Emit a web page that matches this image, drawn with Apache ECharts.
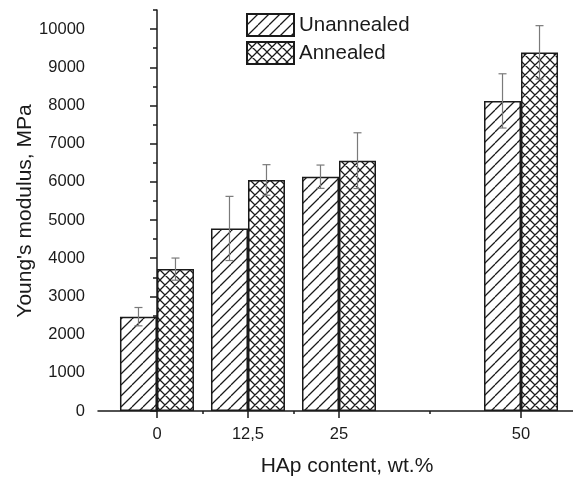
<!DOCTYPE html>
<html>
<head>
<meta charset="utf-8">
<script src="https://cdn.jsdelivr.net/npm/echarts@6/dist/echarts.min.js"></script>
<style>
html,body{margin:0;padding:0;background:#fff;}
#chart{width:573px;height:477px;}
</style>
</head>
<body>
<div id="chart"></div>
<script>
// ---- data ----
const hapContent = [0, 12.5, 25, 50];
const hapLabels = ['0', '12,5', '25', '50'];
const unannealed = [2470, 4780, 6135, 8120];
const unannealedErr = [240, 840, 305, 710];
const annealed = [3715, 6050, 6555, 9390];
const annealedErr = [290, 400, 730, 700];
const yTickValues = [0, 1000, 2000, 3000, 4000, 5000, 6000, 7000, 8000, 9000, 10000];
const yMinorTickValues = [500, 1500, 2500, 3500, 4500, 5500, 6500, 7500, 8500, 9500, 10500];
const xMinorTickValues = [6.25, 18.75, 37.5];
const seriesNames = ['Unannealed', 'Annealed'];

// ---- hatch patterns ----
function makePattern(size, cross) {
  const c = document.createElement('canvas');
  c.width = size; c.height = size;
  const ctx = c.getContext('2d');
  ctx.fillStyle = '#fff';
  ctx.fillRect(0, 0, size, size);
  ctx.strokeStyle = '#1a1a1a';
  ctx.lineWidth = 1.25;
  ctx.beginPath();
  for (let k = -1; k <= 1; k++) {
    ctx.moveTo(k * size, size);
    ctx.lineTo(k * size + size, 0);
    if (cross) {
      ctx.moveTo(k * size, 0);
      ctx.lineTo(k * size + size, size);
    }
  }
  ctx.stroke();
  return c;
}
const hatchPattern = { image: makePattern(11, false), repeat: 'repeat' };
const crossPattern = { image: makePattern(10, true), repeat: 'repeat' };

const BAR_W = 37;
const FONT = 'Liberation Sans, Arial, Helvetica, sans-serif';
const TXT = '#1a1a1a';

function pairs(xs, ys) { return xs.map((x, i) => [x, ys[i]]); }
function errData(xs, ys, es) { return xs.map((x, i) => [x, ys[i], es[i]]); }

function errRender(offset) {
  return function (params, api) {
    const x = api.value(0), v = api.value(1), e = api.value(2);
    const pTop = api.coord([x, v + e]);
    const pBot = api.coord([x, v - e]);
    const cx = pTop[0] + offset;
    const cap = 4;
    const st = { stroke: '#7a7a7a', lineWidth: 1.2 };
    return {
      type: 'group',
      children: [
        { type: 'line', shape: { x1: cx, y1: pTop[1], x2: cx, y2: pBot[1] }, style: st },
        { type: 'line', shape: { x1: cx - cap, y1: pTop[1], x2: cx + cap, y2: pTop[1] }, style: st },
        { type: 'line', shape: { x1: cx - cap, y1: pBot[1], x2: cx + cap, y2: pBot[1] }, style: st }
      ]
    };
  };
}

const chart = echarts.init(document.getElementById('chart'), null, { renderer: 'canvas' });

const axisLine = { show: true, lineStyle: { color: '#1a1a1a', width: 1.5 } };

const option = {
  backgroundColor: '#fff',
  animation: false,
  grid: { left: 98, right: 0, top: 10, bottom: 66, containLabel: false, outerBoundsMode: 'none' },
  legend: {
    orient: 'vertical',
    left: 246,
    top: 13,
    padding: 0,
    itemWidth: 47,
    itemHeight: 22,
    itemGap: 4,
    icon: 'rect',
    data: seriesNames,
    textStyle: { fontFamily: FONT, fontSize: 20.5, color: TXT }
  },
  xAxis: [
    {
      type: 'value', min: -8.1, max: 57.14,
      axisLine: axisLine,
      splitLine: { show: false },
      axisTick: { show: true, length: 7, customValues: hapContent, lineStyle: { color: '#1a1a1a', width: 1.5 } },
      axisLabel: {
        customValues: hapContent,
        margin: 15,
        fontFamily: FONT, fontSize: 16.5, color: TXT,
        formatter: function (v) { const i = hapContent.indexOf(v); return i >= 0 ? hapLabels[i] : ''; }
      }
    },
    {
      type: 'value', min: -8.1, max: 57.14, position: 'bottom',
      axisLine: { show: false },
      splitLine: { show: false },
      axisTick: { show: true, length: 3, customValues: xMinorTickValues, lineStyle: { color: '#1a1a1a', width: 1.5 } },
      axisLabel: { show: false }
    }
  ],
  yAxis: [
    {
      type: 'value', min: 0, max: 10500,
      axisLine: axisLine,
      splitLine: { show: false },
      axisTick: { show: true, length: 7, customValues: yTickValues, lineStyle: { color: '#1a1a1a', width: 1.5 } },
      axisLabel: {
        customValues: yTickValues, margin: 13, fontFamily: FONT, fontSize: 16.5, color: TXT,
        formatter: function (v) { return String(v); }
      }
    },
    {
      type: 'value', min: 0, max: 10500, position: 'left',
      axisLine: { show: false },
      splitLine: { show: false },
      axisTick: { show: true, length: 4, customValues: yMinorTickValues, lineStyle: { color: '#1a1a1a', width: 1.5 } },
      axisLabel: { show: false }
    }
  ],
  graphic: [
    {
      type: 'text', x: 347, y: 466,
      style: { text: 'HAp content, wt.%', font: '21px ' + FONT, fill: TXT, textAlign: 'center', textVerticalAlign: 'middle' }
    },
    {
      type: 'text', x: 25, y: 211, rotation: Math.PI / 2,
      style: { text: "Young's modulus, MPa", font: '21px ' + FONT, fill: TXT, textAlign: 'center', textVerticalAlign: 'middle' }
    }
  ],
  series: [
    {
      name: seriesNames[0], type: 'bar', xAxisIndex: 0, yAxisIndex: 0,
      barWidth: BAR_W, barGap: '0%',
      data: pairs(hapContent, unannealed),
      itemStyle: { color: hatchPattern, borderColor: '#1a1a1a', borderWidth: 1.5 }
    },
    {
      name: seriesNames[1], type: 'bar', xAxisIndex: 0, yAxisIndex: 0,
      barWidth: BAR_W, barGap: '0%',
      data: pairs(hapContent, annealed),
      itemStyle: { color: crossPattern, borderColor: '#1a1a1a', borderWidth: 1.5 }
    },
    {
      type: 'custom', xAxisIndex: 0, yAxisIndex: 0, z: 5,
      renderItem: errRender(-BAR_W / 2),
      data: errData(hapContent, unannealed, unannealedErr),
      encode: { x: 0, y: 1 }
    },
    {
      type: 'custom', xAxisIndex: 0, yAxisIndex: 0, z: 5,
      renderItem: errRender(BAR_W / 2),
      data: errData(hapContent, annealed, annealedErr),
      encode: { x: 0, y: 1 }
    }
  ]
};
chart.setOption(option);
</script>
</body>
</html>
